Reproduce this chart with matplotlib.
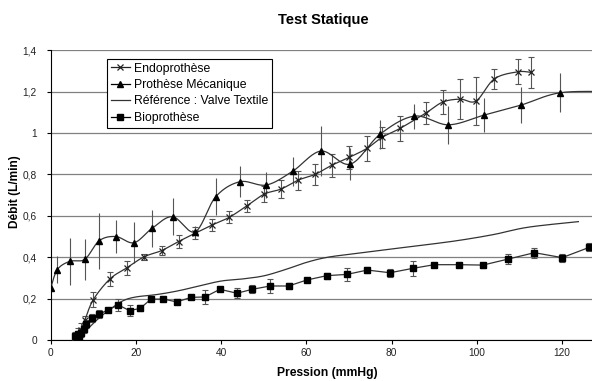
import numpy as np
import matplotlib
matplotlib.use("Agg")
import matplotlib.pyplot as plt
from matplotlib.ticker import FuncFormatter

plt.rcParams['font.family'] = ['Liberation Sans', 'DejaVu Sans']

# ---------------- data ----------------
endo_x = [5.8, 6.5, 7.2, 8.0, 10.0, 13.9, 17.8, 21.9, 26.0, 30.0, 33.9, 37.9, 41.9, 46.0,
          50.1, 54.1, 58.1, 62.0, 66.0, 70.1, 74.2, 77.7, 82.0, 88.1, 92.0, 96.1, 99.8,
          104.1, 109.6, 112.7]
endo_y = [0.01, 0.03, 0.05, 0.095, 0.195, 0.295, 0.348, 0.402, 0.432, 0.476, 0.516, 0.556,
          0.593, 0.648, 0.705, 0.730, 0.773, 0.800, 0.845, 0.883, 0.926, 0.979, 1.023,
          1.098, 1.150, 1.164, 1.155, 1.262, 1.296, 1.293]
endo_err = [0.02, 0.03, 0.03, 0.02, 0.035, 0.035, 0.033, 0.015, 0.02, 0.03, 0.03, 0.03,
            0.03, 0.03, 0.04, 0.045, 0.046, 0.05, 0.055, 0.055, 0.06, 0.05, 0.06, 0.052,
            0.056, 0.095, 0.118, 0.05, 0.06, 0.075]

mec_x = [0.0, 1.55, 4.45, 8.0, 11.4, 15.3, 19.55, 23.8, 28.6, 33.9, 38.7, 44.4, 50.6,
         56.8, 63.4, 70.3, 77.3, 85.3, 93.3, 101.7, 110.3, 119.6, 132.0]
mec_y = [0.25, 0.34, 0.38, 0.39, 0.48, 0.50, 0.47, 0.54, 0.596, 0.523, 0.692, 0.765,
         0.749, 0.816, 0.913, 0.85, 0.995, 1.082, 1.04, 1.087, 1.135, 1.195, 1.20]
mec_err = [0.0, 0.065, 0.115, 0.10, 0.135, 0.08, 0.10, 0.09, 0.09, 0.03, 0.09, 0.075,
           0.065, 0.07, 0.12, 0.077, 0.07, 0.06, 0.093, 0.083, 0.087, 0.093, 0.09]

ref_x = [6.5, 8.5, 11, 14, 17, 20, 25, 30, 35, 40, 45, 50, 55, 60, 65, 72, 80, 88, 96,
         104, 112, 123.8]
ref_y = [0.015, 0.05, 0.10, 0.15, 0.19, 0.208, 0.22, 0.238, 0.262, 0.285, 0.295, 0.31,
         0.34, 0.375, 0.40, 0.419, 0.44, 0.46, 0.482, 0.51, 0.545, 0.572]

bio_x = [5.8, 6.1, 6.4, 6.7, 7.0, 7.7, 8.3, 9.6, 11.3, 13.4, 15.9, 18.5, 21.0, 23.5, 26.4,
         29.6, 32.9, 36.2, 39.7, 43.7, 47.3, 51.5, 55.8, 60.1, 64.8, 69.5, 74.3, 79.6,
         84.9, 90.0, 95.7, 101.4, 107.3, 113.5, 120.0, 126.4]
bio_y = [0.02, 0.01, 0.03, 0.015, 0.035, 0.052, 0.076, 0.105, 0.124, 0.145, 0.169, 0.142,
         0.153, 0.197, 0.198, 0.184, 0.206, 0.208, 0.245, 0.226, 0.245, 0.261, 0.261,
         0.29, 0.311, 0.317, 0.338, 0.325, 0.346, 0.364, 0.364, 0.362, 0.391, 0.422,
         0.398, 0.448]
bio_err = [0.02, 0.02, 0.015, 0.02, 0.02, 0.02, 0.02, 0.02, 0.02, 0.012, 0.03, 0.025,
           0.015, 0.01, 0.008, 0.01, 0.01, 0.035, 0.008, 0.025, 0.02, 0.035, 0.015, 0.008,
           0.015, 0.03, 0.015, 0.02, 0.035, 0.008, 0.008, 0.012, 0.025, 0.025, 0.02, 0.02]

x_ticks = [0, 20, 40, 60, 80, 100, 120]
y_ticks = [0, 0.2, 0.4, 0.6, 0.8, 1.0, 1.2, 1.4]
labels = ["Endoprothèse", "Prothèse Mécanique", "Référence : Valve Textile", "Bioprothèse"]

XMAX, YMAX = 127, 1.4


def excel_smooth(xs, ys, sx, sy, n=20):
    """Excel-like smoothed line: cubic Bezier with Catmull-Rom control points (1/6)."""
    P = np.column_stack([np.asarray(xs) * sx, np.asarray(ys) * sy])
    out = [P[0]]
    m = len(P)
    for i in range(m - 1):
        p0 = P[i - 1] if i > 0 else P[i]
        p1, p2 = P[i], P[i + 1]
        p3 = P[i + 2] if i + 2 < m else P[i + 1]
        c1 = p1 + (p2 - p0) / 6.0
        c2 = p2 - (p3 - p1) / 6.0
        t = np.linspace(0, 1, n)[1:, None]
        seg = ((1 - t) ** 3) * p1 + 3 * ((1 - t) ** 2) * t * c1 + 3 * (1 - t) * t ** 2 * c2 + t ** 3 * p2
        out.extend(seg)
    out = np.array(out)
    return out[:, 0] / sx, out[:, 1] / sy


fig = plt.figure(figsize=(5.92, 3.81), dpi=100)
ax = fig.add_axes([50.7 / 592, 1 - 340 / 381, 1 - 50.7 / 592, (340 - 50.3) / 381])
ax.set_xlim(0, XMAX)
ax.set_ylim(0, YMAX)

# pixel scales for smoothing
sx = 4.26
sy = 207.0
ecol = '#555555'
lc = '#333333'

# Endoprothèse
ax.errorbar(endo_x, endo_y, yerr=endo_err, fmt='none', ecolor=ecol, elinewidth=0.8,
            capsize=2.5, capthick=0.8, zorder=3)
sxs, sys_ = excel_smooth(endo_x, endo_y, sx, sy)
ax.plot(sxs, sys_, color=lc, lw=0.9, zorder=4)
ax.plot(endo_x, endo_y, 'x', color='#222222', ms=4.5, mew=0.9, zorder=5)

# Prothèse Mécanique
ax.errorbar(mec_x, mec_y, yerr=mec_err, fmt='none', ecolor=ecol, elinewidth=0.8,
            capsize=0, zorder=3)
sxs, sys_ = excel_smooth(mec_x, mec_y, sx, sy)
ax.plot(sxs, sys_, color=lc, lw=0.9, zorder=4)
ax.plot(mec_x, mec_y, '^', color='black', ms=5, zorder=5)

# Référence
sxs, sys_ = excel_smooth(ref_x, ref_y, sx, sy)
ax.plot(sxs, sys_, color=lc, lw=0.9, zorder=4)

# Bioprothèse
ax.errorbar(bio_x, bio_y, yerr=bio_err, fmt='none', ecolor=ecol, elinewidth=0.8,
            capsize=2.5, capthick=0.8, zorder=3)
ax.plot(bio_x, bio_y, '-', color=lc, lw=0.9, zorder=4)
ax.plot(bio_x, bio_y, 's', color='black', ms=4.3, zorder=5)

# legend handles
h1, = ax.plot([], [], '-x', color='#222222', lw=0.9, ms=4.5, mew=0.9)
h2, = ax.plot([], [], '-^', color='black', lw=0.9, ms=5)
h3, = ax.plot([], [], '-', color=lc, lw=0.9)
h4, = ax.plot([], [], '-s', color='black', lw=0.9, ms=4.3)
leg = fig.legend([h1, h2, h3, h4], labels, loc='upper left',
                 bbox_to_anchor=(107 / 592, 1 - 59 / 381), fontsize=8.8,
                 frameon=True, fancybox=False, edgecolor='black', framealpha=1,
                 handlelength=1.6, handletextpad=0.3, borderpad=0.3,
                 labelspacing=0.36, borderaxespad=0)
leg.get_frame().set_linewidth(0.8)
leg.set_zorder(10)

# axes styling
ax.set_yticks(y_ticks)
ax.set_xticks(x_ticks)


def fmt(v, pos):
    s = ('%.1f' % v).rstrip('0').rstrip('.')
    return s.replace('.', ',')


ax.yaxis.set_major_formatter(FuncFormatter(fmt))
ax.xaxis.set_major_formatter(FuncFormatter(fmt))
ax.grid(axis='y', color='#808080', lw=0.9)
ax.set_axisbelow(True)
for s in ['top', 'right']:
    ax.spines[s].set_visible(False)
ax.spines['left'].set_linewidth(0.8)
ax.spines['bottom'].set_linewidth(0.8)
ax.tick_params(axis='both', labelsize=7.3, length=3, width=0.8, color='black',
               labelcolor='#222222', pad=3)
ax.tick_params(axis='y', pad=7)

fig.text(323 / 592, 1 - 20 / 381, "Test Statique", ha='center', va='center',
         fontsize=10.5, fontweight='bold')
fig.text(327 / 592, 1 - 373 / 381, "Pression (mmHg)", ha='center', va='center',
         fontsize=8.7, fontweight='bold')
fig.text(15 / 592, 1 - 192 / 381, "Débit (L/min)", ha='center', va='center',
         fontsize=8.6, fontweight='bold', rotation=90)

fig.savefig("out.png", dpi=100)
